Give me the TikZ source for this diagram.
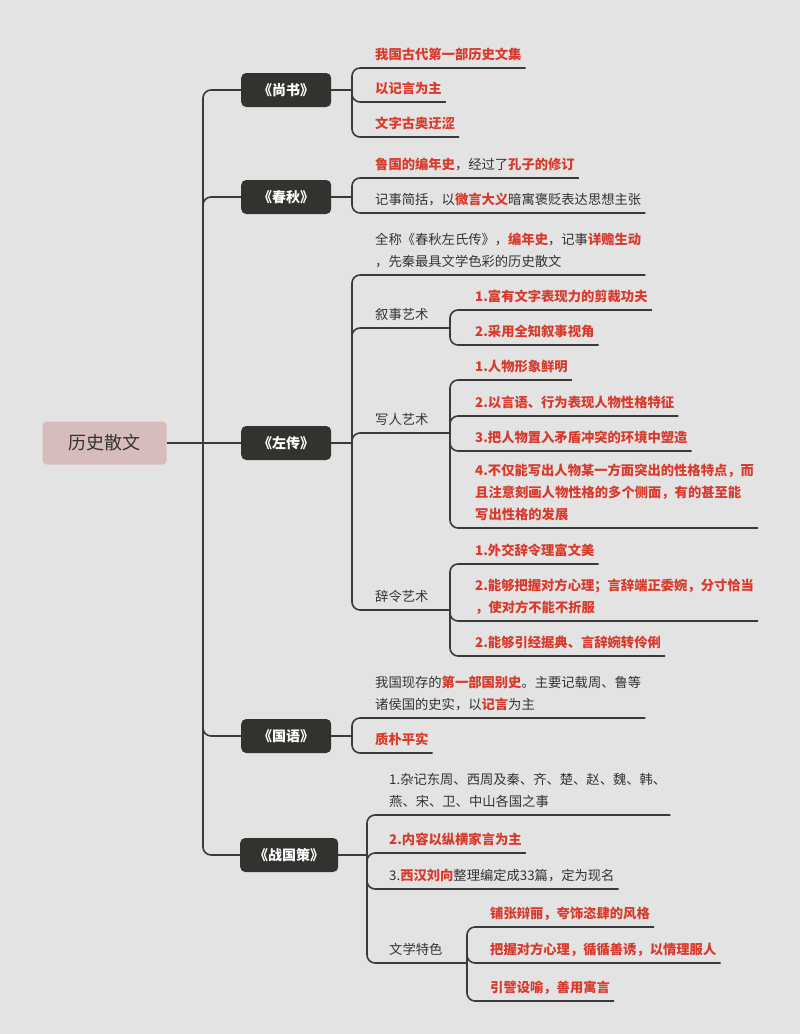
\documentclass[tikz,border=0pt]{standalone}
\usepackage{fontspec}
\setmainfont{Noto Sans CJK SC}
\usetikzlibrary{positioning}

\begin{document}
\begin{tikzpicture}[x=1pt,y=-1pt]
      \definecolor{paper}{HTML}{E3E3E3}
      \definecolor{rootpink}{HTML}{D6BDBB}
      \definecolor{darkbox}{HTML}{32322F}
      \definecolor{linegray}{HTML}{3A3A3A}
      \definecolor{textgray}{HTML}{333333}
      \definecolor{redtext}{HTML}{D83A2C}

      \newcommand{\redtxt}[1]{{\color{redtext}\bfseries #1}}
      \newcommand{\leaffont}[0]{\fontsize{13.3}{22}\selectfont}

      \tikzstyle{root}  = [rectangle, rounded corners=4pt, fill=rootpink, text=textgray, minimum width=124pt, minimum height=43pt, font=\fontsize{18}{22}\selectfont]
      \tikzstyle{topic} = [rectangle, rounded corners=5pt, fill=darkbox, text=white, minimum width=90pt, minimum height=34pt, inner xsep=14pt, anchor=west, font=\fontsize{14}{17}\selectfont\bfseries]
      \tikzstyle{leaf}  = [anchor=south west, inner xsep=4pt, inner ysep=0pt, text depth=8pt, align=left, text=textgray, font=\leaffont]
      \tikzstyle{link}  = [line width=1.6pt, draw=linegray, rounded corners=8pt]

      \fill [paper] (0,0) rectangle (800,1034);

      \node [root]  (root) at (104.5,443) {历史散文};
      \node [topic] (sh)   at (241,90)    {《尚书》};
      \node [topic] (cq)   at (241,197)   {《春秋》};
      \node [topic] (zz)   at (241,443)   {《左传》};
      \node [topic] (gy)   at (241,736)   {《国语》};
      \node [topic] (zg)   at (240,855)   {《战国策》};

      \coordinate (rootfork) at (203,443);
      \coordinate (shfork)   at (352,90);
      \coordinate (cqfork)   at (352,197);
      \coordinate (zzfork)   at (352,443);
      \coordinate (gyfork)   at (352,736);
      \coordinate (zgfork)   at (367,855);
      \coordinate (xsfork)   at (450,328);
      \coordinate (xrfork)   at (450,433);
      \coordinate (clfork)   at (450,610);
      \coordinate (wxfork)   at (467,963);

      \node [leaf] (sh1) at (371,68)  {\redtxt{我国古代第一部历史文集}};
      \node [leaf] (sh2) at (371,102) {\redtxt{以记言为主}};
      \node [leaf] (sh3) at (371,137) {\redtxt{文字古奥迂涩}};

      \node [leaf] (cq1) at (371,178) {\redtxt{鲁国的编年史}，经过了\redtxt{孔子的修订}};
      \node [leaf] (cq2) at (371,213) {记事简括，以\redtxt{微言大义}暗寓褒贬表达思想主张};

      \node [leaf] (zz1) at (371,275) {全称《春秋左氏传》，\redtxt{编年史}，记事\redtxt{详赡生动}\\，先秦最具文学色彩的历史散文};
      \node [leaf] (zz2) at (371,328) {叙事艺术};
      \node [leaf] (zz3) at (371,433) {写人艺术};
      \node [leaf] (zz4) at (371,610) {辞令艺术};

      \node [leaf] (xs1) at (471,310) {\redtxt{1.富有文字表现力的剪裁功夫}};
      \node [leaf] (xs2) at (471,345) {\redtxt{2.采用全知叙事视角}};

      \node [leaf] (xr1) at (471,380) {\redtxt{1.人物形象鲜明}};
      \node [leaf] (xr2) at (471,416) {\redtxt{2.以言语、行为表现人物性格特征}};
      \node [leaf] (xr3) at (471,451) {\redtxt{3.把人物置入矛盾冲突的环境中塑造}};
      \node [leaf] (xr4) at (471,528) {\redtxt{4.不仅能写出人物某一方面突出的性格特点，而}\\\redtxt{且注意刻画人物性格的多个侧面，有的甚至能}\\\redtxt{写出性格的发展}};

      \node [leaf] (cl1) at (471,564) {\redtxt{1.外交辞令理富文美}};
      \node [leaf] (cl2) at (471,621) {\redtxt{2.能够把握对方心理；言辞端正委婉，分寸恰当}\\\redtxt{，使对方不能不折服}};
      \node [leaf] (cl3) at (471,656) {\redtxt{2.能够引经据典、言辞婉转伶俐}};

      \node [leaf] (gy1) at (371,718) {我国现存的\redtxt{第一部国别史}。主要记载周、鲁等\\诸侯国的史实，以\redtxt{记言}为主};
      \node [leaf] (gy2) at (371,753) {\redtxt{质朴平实}};

      \node [leaf] (zg1) at (385,815) {1.杂记东周、西周及秦、齐、楚、赵、魏、韩、\\燕、宋、卫、中山各国之事};
      \node [leaf] (zg2) at (385,853) {\redtxt{2.内容以纵横家言为主}};
      \node [leaf] (zg3) at (385,889) {3.\redtxt{西汉刘向}整理编定成33篇，定为现名};
      \node [leaf] (zg4) at (385,963) {文学特色};

      \node [leaf] (wx1) at (486,927)  {\redtxt{铺张辩丽，夸饰恣肆的风格}};
      \node [leaf] (wx2) at (486,963)  {\redtxt{把握对方心理，循循善诱，以情理服人}};
      \node [leaf] (wx3) at (486,1001) {\redtxt{引譬设喻，善用寓言}};

      \draw [link] (root.east) -- (rootfork) -- (zz.west);
      \foreach \t in {sh,cq,gy,zg}
        \draw [link] (rootfork) |- (\t.west);

      \foreach \t in {sh,cq,zz,gy,zg}
        \draw [link] (\t.east) -- (\t fork);

      \foreach \n in {sh1,sh2,sh3}
        \draw [link] (shfork) |- (\n.south east);
      \foreach \n in {cq1,cq2}
        \draw [link] (cqfork) |- (\n.south east);
      \draw [link] (zzfork) |- (zz1.south east);
      \draw [link] (zzfork) |- (xsfork);
      \draw [link] (zzfork) |- (xrfork);
      \draw [link] (zzfork) |- (clfork);
      \foreach \n in {xs1,xs2}
        \draw [link] (xsfork) |- (\n.south east);
      \foreach \n in {xr1,xr2,xr3,xr4}
        \draw [link] (xrfork) |- (\n.south east);
      \foreach \n in {cl1,cl2,cl3}
        \draw [link] (clfork) |- (\n.south east);
      \foreach \n in {gy1,gy2}
        \draw [link] (gyfork) |- (\n.south east);
      \foreach \n in {zg1,zg2,zg3}
        \draw [link] (zgfork) |- (\n.south east);
      \draw [link] (zgfork) |- (wxfork);
      \foreach \n in {wx1,wx2,wx3}
        \draw [link] (wxfork) |- (\n.south east);
\end{tikzpicture}
\end{document}
